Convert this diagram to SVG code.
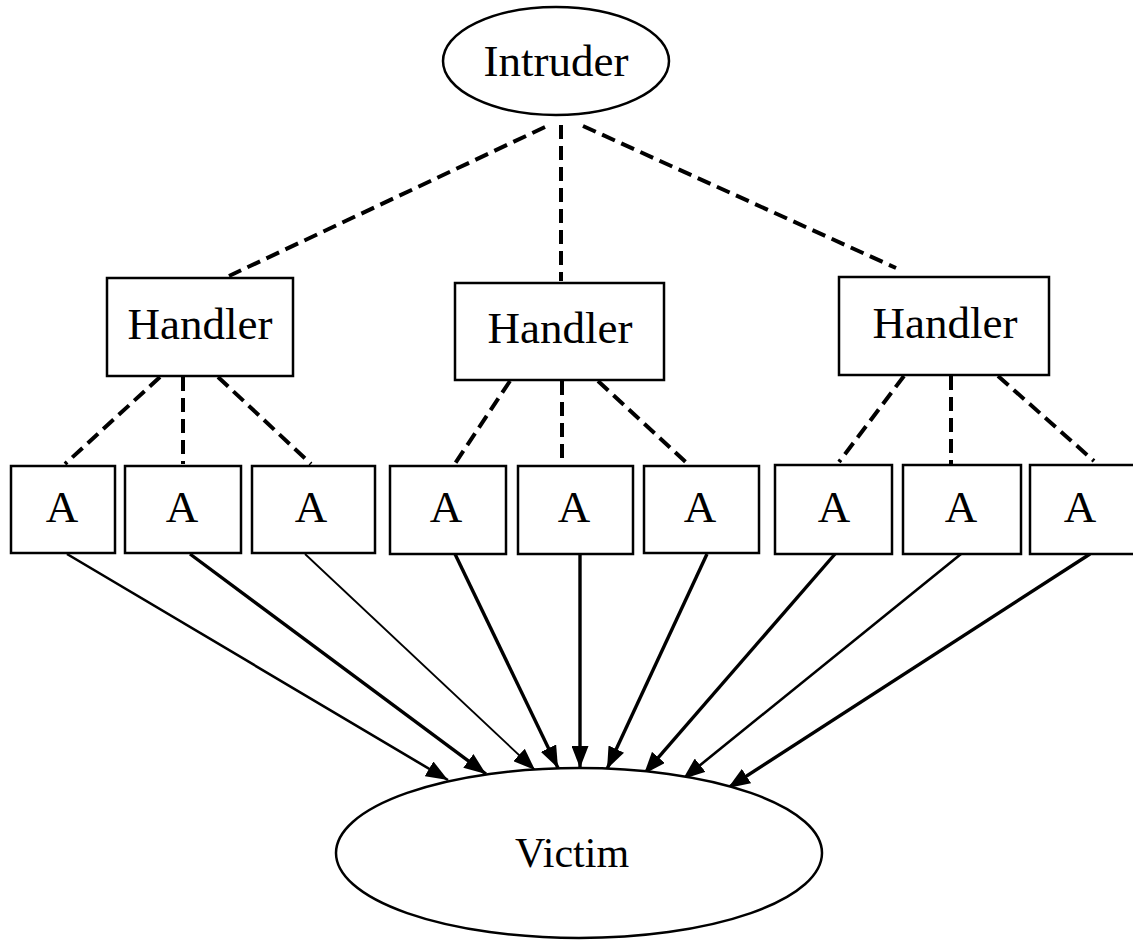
<svg xmlns="http://www.w3.org/2000/svg" width="1133" height="940" viewBox="0 0 1133 940">
  <style>
    .shape { fill: #fff; stroke: #000; stroke-width: 2.5; }
    .label { font-family: "Liberation Serif", "Times New Roman", serif; font-size: 45px; fill: #000; text-anchor: middle; }
    .ctrl { fill: none; stroke: #000; stroke-width: 4; stroke-dasharray: 14 7; }
    .flood { fill: none; stroke: #000; stroke-width: 3.4; marker-end: url(#arrow); }
    .thin { stroke-width: 1.8; }
    .mid { stroke-width: 2.6; }
  </style>
  <defs>
    <marker id="arrow" markerUnits="userSpaceOnUse" markerWidth="22" markerHeight="17" refX="22" refY="8.5" orient="auto">
      <path d="M0,0 L22,8.5 L0,17 Z" fill="#000"/>
    </marker>
  </defs>

  <rect width="1133" height="940" fill="#fff"/>

  <!-- connectors: dashed control links, solid attack traffic -->
  <g id="connectors">
    <line class="ctrl" x1="545" y1="127" x2="229" y2="276"/>
    <line class="ctrl" x1="561" y1="125" x2="561" y2="281"/>
    <line class="ctrl" x1="583" y1="126" x2="896" y2="268"/>

    <line class="ctrl" x1="160" y1="377" x2="65" y2="464"/>
    <line class="ctrl" x1="183" y1="377" x2="183" y2="464"/>
    <line class="ctrl" x1="218" y1="377" x2="311" y2="464"/>

    <line class="ctrl" x1="510" y1="381" x2="454" y2="465"/>
    <line class="ctrl" x1="562" y1="381" x2="562" y2="465"/>
    <line class="ctrl" x1="598" y1="381" x2="689" y2="465"/>

    <line class="ctrl" x1="904" y1="376" x2="839" y2="462"/>
    <line class="ctrl" x1="951" y1="376" x2="951" y2="464"/>
    <line class="ctrl" x1="998" y1="376" x2="1094" y2="461"/>

    <line class="flood mid" x1="67" y1="554" x2="448" y2="780"/>
    <line class="flood" x1="190" y1="554" x2="486" y2="774"/>
    <line class="flood thin" x1="305" y1="554" x2="535" y2="770"/>
    <line class="flood" x1="455" y1="554" x2="558" y2="768"/>
    <line class="flood" x1="580" y1="554" x2="580" y2="768"/>
    <line class="flood" x1="707" y1="554" x2="607" y2="769"/>
    <line class="flood" x1="835" y1="554" x2="644" y2="774"/>
    <line class="flood mid" x1="961" y1="554" x2="683" y2="779"/>
    <line class="flood" x1="1090" y1="554" x2="728" y2="788"/>
  </g>

  <g id="intruder">
    <ellipse class="shape" cx="556" cy="61" rx="113" ry="54"/>
    <text class="label" x="556" y="76">Intruder</text>
  </g>

  <g id="handler-1">
    <rect class="shape" x="107" y="278" width="186" height="98"/>
    <text class="label" x="200" y="339">Handler</text>
  </g>
  <g id="handler-2">
    <rect class="shape" x="455" y="283" width="209" height="97"/>
    <text class="label" x="560" y="343">Handler</text>
  </g>
  <g id="handler-3">
    <rect class="shape" x="839" y="277" width="210" height="98"/>
    <text class="label" x="945" y="338">Handler</text>
  </g>

  <g id="agent-1">
    <rect class="shape" x="11" y="466" width="104" height="87"/>
    <text class="label" x="62" y="522">A</text>
  </g>
  <g id="agent-2">
    <rect class="shape" x="125" y="466" width="116" height="87"/>
    <text class="label" x="182" y="522">A</text>
  </g>
  <g id="agent-3">
    <rect class="shape" x="252" y="466" width="123" height="87"/>
    <text class="label" x="311" y="522">A</text>
  </g>
  <g id="agent-4">
    <rect class="shape" x="390" y="466" width="116" height="88"/>
    <text class="label" x="446" y="522">A</text>
  </g>
  <g id="agent-5">
    <rect class="shape" x="518" y="466" width="115" height="88"/>
    <text class="label" x="574" y="522">A</text>
  </g>
  <g id="agent-6">
    <rect class="shape" x="644" y="466" width="115" height="87"/>
    <text class="label" x="700" y="522">A</text>
  </g>
  <g id="agent-7">
    <rect class="shape" x="775" y="465" width="117" height="89"/>
    <text class="label" x="834" y="522">A</text>
  </g>
  <g id="agent-8">
    <rect class="shape" x="903" y="465" width="118" height="89"/>
    <text class="label" x="961" y="522">A</text>
  </g>
  <g id="agent-9">
    <rect class="shape" x="1030" y="465" width="115" height="89"/>
    <text class="label" x="1080" y="522">A</text>
  </g>

  <g id="victim">
    <ellipse class="shape" cx="579" cy="853" rx="243" ry="85"/>
    <text class="label" x="572" y="867" style="font-size:42px">Victim</text>
  </g>
</svg>
